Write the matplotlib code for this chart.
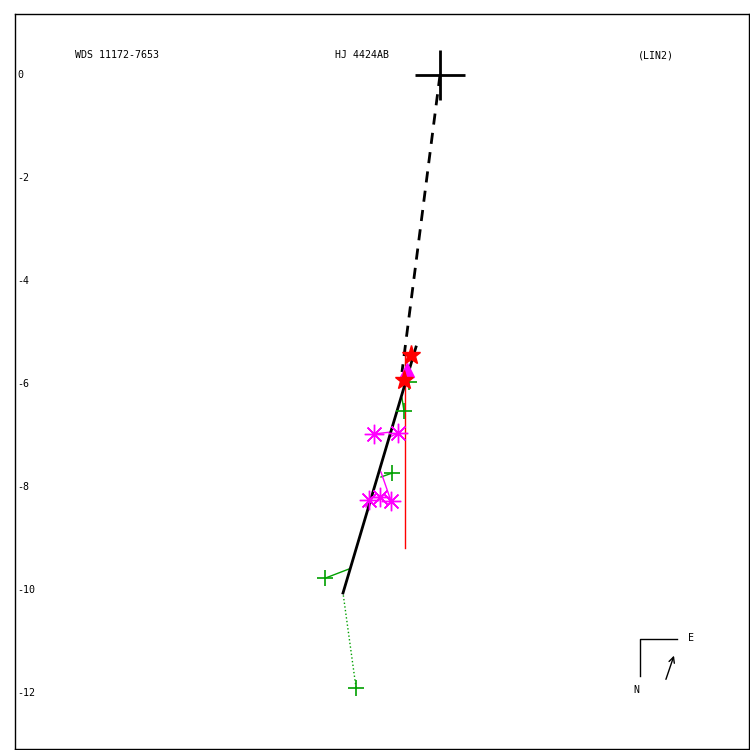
import matplotlib
matplotlib.use('Agg')
import matplotlib.pyplot as plt

# fitted linear motion (solid) and primary -> line (dashed)
linha_x = [-0.466, -1.883]
linha_y = [-5.282, -10.058]
tracejada_x = [0.0, -0.738]
tracejada_y = [0.0, -5.767]
vermelha_x = [-0.68, -0.68]
vermelha_y = [-5.34, -9.18]

# observations (x, y) and their predicted points on the line
verde_x = [-2.23, -1.63, -0.93, -0.70, -0.60]
verde_y = [-9.77, -11.90, -7.73, -6.52, -5.96]
verde_px = [-1.767, -1.883, -1.146, -0.738, -0.66]
verde_py = [-9.592, -10.058, -7.806, -6.272, -5.93]

mag_x = [-1.282, -0.816, -1.379, -1.165, -0.951]
mag_y = [-6.971, -6.951, -8.252, -8.194, -8.272]
mag_px = [-0.951, -0.971, -1.437, -1.36, -1.146]
mag_py = [-6.932, -7.029, -8.388, -8.194, -7.709]

tri_x = [-0.641]
tri_y = [-5.728]
estrela_x = [-0.563, -0.699]
estrela_y = [-5.437, -5.922]

yticks = [0, -2, -4, -6, -8, -10, -12]

fig = plt.figure(figsize=(7.5, 7.5), dpi=100)
ax = fig.add_axes([15/750, 1/750, 734/750, 735/750])
ax.set_xlim(-8.252, 6.0)
ax.set_ylim(-13.087, 1.184)
ax.set_xticks([])
ax.set_yticks([])
for s in ax.spines.values():
    s.set_linewidth(1)

fonte = dict(family='DejaVu Sans Mono', fontsize=7.2)

# O-C lines
for i in range(len(verde_x)):
    ls = ':' if i == 1 else '-'
    ax.plot([verde_x[i], verde_px[i]], [verde_y[i], verde_py[i]], color='#00a000', lw=1, ls=ls)
for i in range(len(mag_x)):
    ax.plot([mag_x[i], mag_px[i]], [mag_y[i], mag_py[i]], color='magenta', lw=1)

ax.plot(vermelha_x, vermelha_y, color='red', lw=1)
ax.plot(tracejada_x, tracejada_y, color='black', lw=2, ls=(0, (4, 3)))
ax.plot(linha_x, linha_y, color='black', lw=2)

ax.plot(verde_x, verde_y, ls='none', marker='+', color='#00a000', ms=12, mew=1.2)
ax.plot(mag_x, mag_y, ls='none', marker=(8, 2, 0), color='magenta', ms=14, mew=1)
ax.plot(mag_x, mag_y, ls='none', marker='o', color='magenta', ms=3)
ax.plot(tri_x, tri_y, ls='none', marker='^', color='magenta', ms=10)
ax.plot(estrela_x, estrela_y, ls='none', marker='*', color='red', ms=14)
ax.plot([0], [0], ls='none', marker='+', color='black', ms=36, mew=2)

# y labels inside the frame
for v in yticks:
    ax.text(0.003, v, str(v), transform=ax.get_yaxis_transform(),
            ha='left', va='center', **fonte)

ax.text(0.0817, 0.944, 'WDS 11172-7653', transform=ax.transAxes, ha='left', va='center', **fonte)
ax.text(0.4728, 0.944, 'HJ 4424AB', transform=ax.transAxes, ha='center', va='center', **fonte)
ax.text(0.8488, 0.944, '(LIN2)', transform=ax.transAxes, ha='left', va='center', **fonte)

# N / E orientation
ax.plot([0.9019, 0.8515, 0.8515], [0.1497, 0.1497, 0.0993], color='black', lw=1, transform=ax.transAxes)
ax.text(0.917, 0.151, 'E', transform=ax.transAxes, ha='left', va='center', **fonte)
ax.text(0.847, 0.080, 'N', transform=ax.transAxes, ha='center', va='center', **fonte)
ax.annotate('', xy=(0.899, 0.1306), xytext=(0.8856, 0.0912), xycoords='axes fraction',
            arrowprops=dict(arrowstyle='->', color='black', lw=1))

plt.savefig('out.png', dpi=100)
